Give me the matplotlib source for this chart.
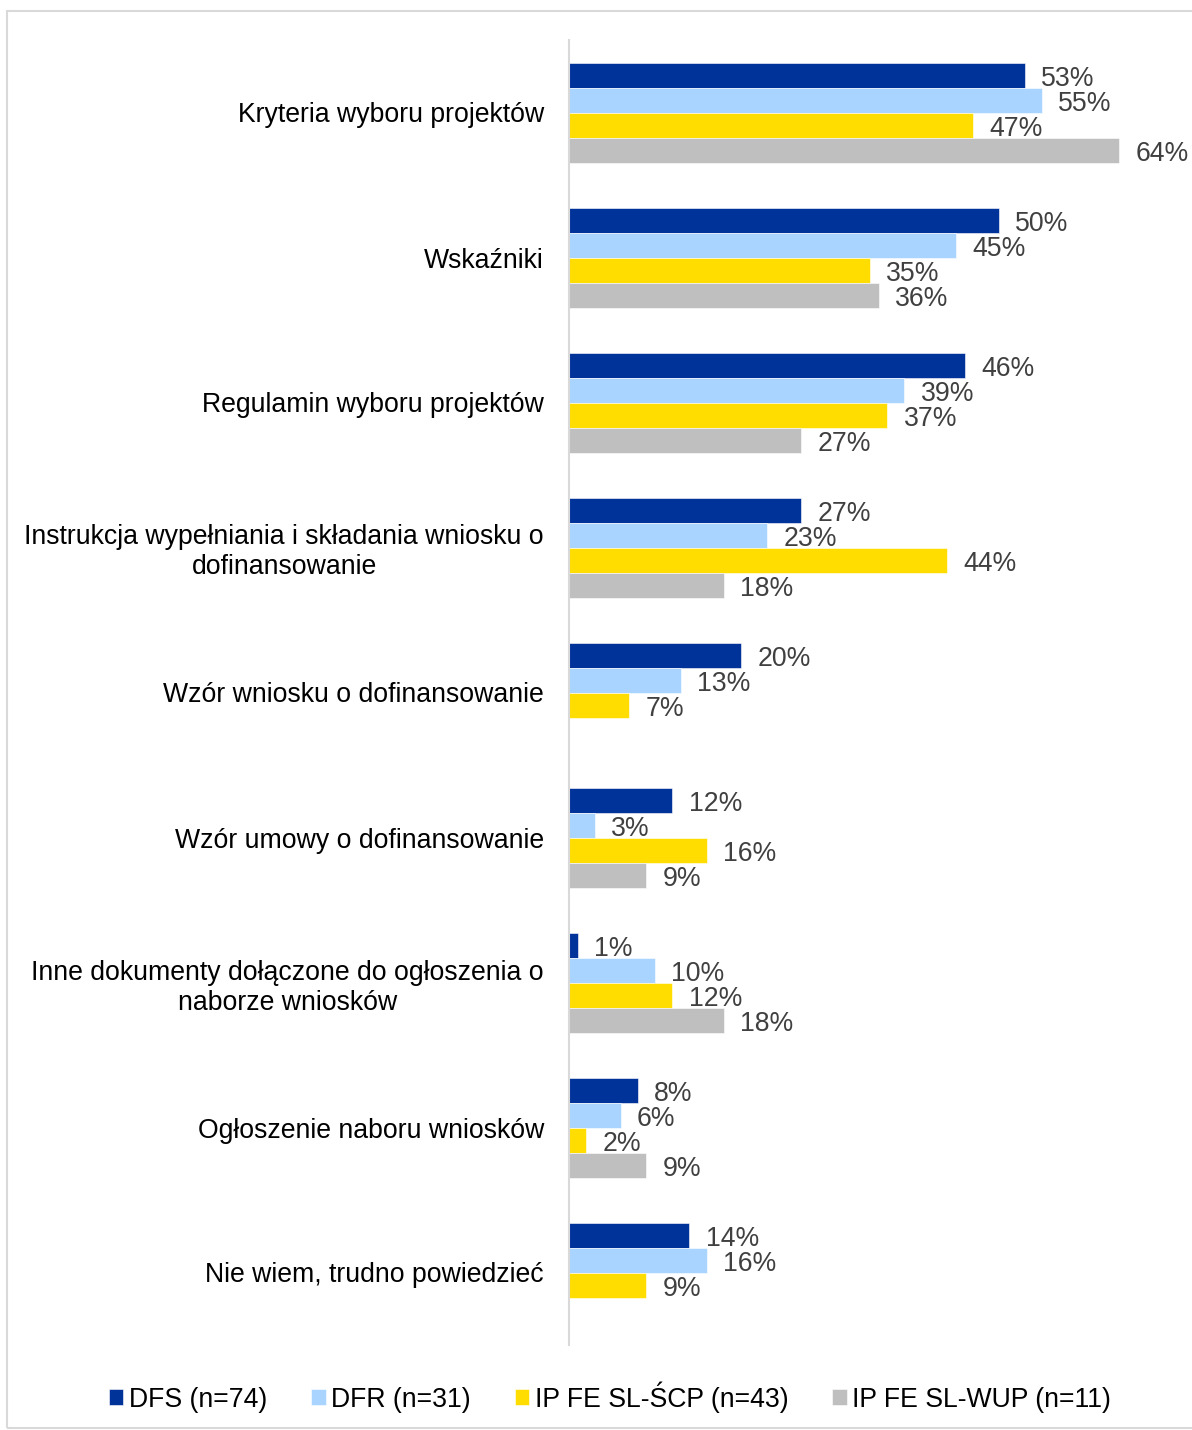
import numpy as np
import matplotlib.pyplot as plt
from matplotlib.patches import Rectangle

plt.rcParams['font.family'] = ['Liberation Sans', 'DejaVu Sans']

categories = [
    "Kryteria wyboru projektów",
    "Wskaźniki",
    "Regulamin wyboru projektów",
    "Instrukcja wypełniania i składania wniosku o\ndofinansowanie",
    "Wzór wniosku o dofinansowanie",
    "Wzór umowy o dofinansowanie",
    "Inne dokumenty dołączone do ogłoszenia o\nnaborze wniosków",
    "Ogłoszenie naboru wniosków",
    "Nie wiem, trudno powiedzieć",
]
series_names = ["DFS (n=74)", "DFR (n=31)", "IP FE SL-ŚCP (n=43)", "IP FE SL-WUP (n=11)"]
dfs = [53, 50, 46, 27, 20, 12, 1, 8, 14]
dfr = [55, 45, 39, 23, 13, 3, 10, 6, 16]
scp = [47, 35, 37, 44, 7, 16, 12, 2, 9]
wup = [64, 36, 27, 18, np.nan, 9, 18, 9, np.nan]
colors = ["#003399", "#A9D4FF", "#FFDD00", "#BFBFBF"]

W, H = 1192, 1430
FS = 19.2
fig = plt.figure(figsize=(W / 100, H / 100), dpi=100)

# light frame around the chart
fig.patches.append(Rectangle((7 / W, 1 - 1428 / H), (W + 10 - 7) / W, (1428 - 11) / H,
                             transform=fig.transFigure, fill=False,
                             edgecolor="#D9D9D9", linewidth=1.5))

ax = fig.add_axes([569 / W, 1 - 1345 / H, (W - 569) / W, (1345 - 40) / H])

h = 25 / 145
y = np.arange(len(categories))
for k, (vals, c, name) in enumerate(zip([dfs, dfr, scp, wup], colors, series_names)):
    vals = np.array(vals, dtype=float)
    pos = y + (k - 1.5) * h
    ax.barh(pos, np.nan_to_num(vals), height=h, color=c, label=name,
            edgecolor="white", linewidth=0.4)
    for p, v in zip(pos, vals):
        if np.isnan(v):
            continue
        ax.text(v + 1.9, p + 0.025, f"{v:.0f}%", va="center", ha="left",
                fontsize=FS, color="#404040", clip_on=False)

ax.set_xlim(0, (W - 569) / 8.6)
ax.set_ylim(len(categories) - 0.5, -0.5)
ax.set_yticks(y)
ax.set_yticklabels(categories, fontsize=FS, color="black", multialignment="center")
ax.tick_params(axis="y", length=0, pad=18)
ax.set_xticks([])
for s in ["top", "right", "bottom"]:
    ax.spines[s].set_visible(False)
ax.spines["left"].set_color("#D9D9D9")
ax.spines["left"].set_linewidth(1.5)

fig.legend(loc="center", bbox_to_anchor=(610 / W, 1 - 1397 / H), ncol=4,
           frameon=False, fontsize=FS, handlelength=0.55, handleheight=0.55,
           handletextpad=0.2, columnspacing=1.65)

fig.savefig("out.png", dpi=100)
